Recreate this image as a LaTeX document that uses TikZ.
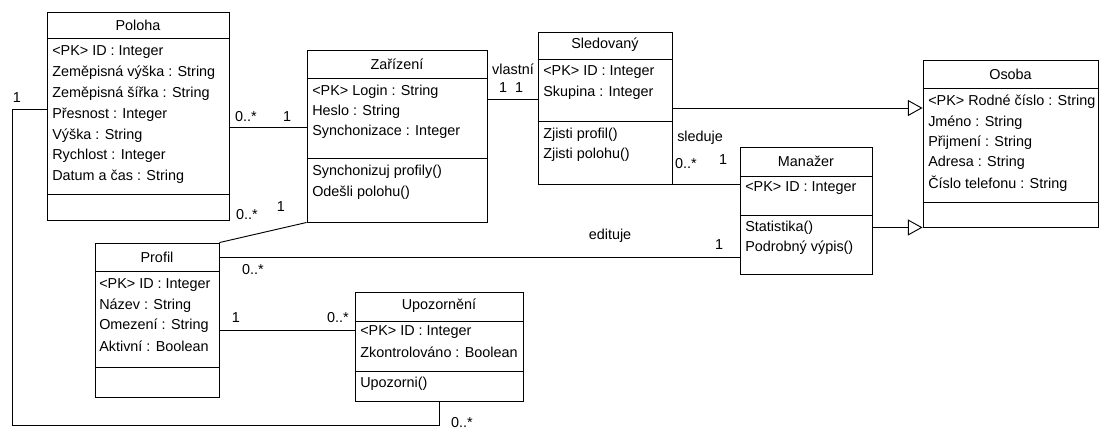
\documentclass[tikz,border=0pt]{standalone}
\usepackage{fontspec}
\setmainfont{Liberation Sans}
\usetikzlibrary{arrows.meta,fit,shadows}

\tikzset{
  cls/.style={draw, line width=0.7pt, fill=white, inner sep=0pt,
    drop shadow={shadow xshift=0.8pt, shadow yshift=-0.8pt, opacity=0.35, fill=black}},
  sep/.style={line width=0.7pt},
  head/.style={inner sep=0pt},
  attr/.style={anchor=west, inner sep=0pt},
  mult/.style={inner sep=0pt},
  assoc/.style={line width=0.7pt},
  gen/.style={line width=0.7pt, -{Triangle[open, length=11pt, width=12pt]}},
}

\begin{document}
\begin{tikzpicture}[x=0.75pt, y=-0.75pt, font=\fontsize{10.8}{13}\selectfont]
    \useasboundingbox (0,0) rectangle (1099,430);

    % Poloha
    \node[cls, fit={(47,12) (229,220)}] (poloha) {};
    \node[head] (polohaT) at (poloha.north |- 0,25) {Poloha};
    \draw[sep] (poloha.west |- 0,38) -- (poloha.east |- 0,38);
    \draw[sep] (poloha.west |- 0,194) -- (poloha.east |- 0,194);
    \foreach \txt [count=\i] in {<PK> ID : Integer, Zeměpisná výška : String,
        Zeměpisná šířka : String, Přesnost : Integer, Výška : String,
        Rychlost : Integer, Datum a čas : String}
        \node[attr] (poloha-\i) at (52, {52+20.8*(\i-1)}) {\txt};

    % Zarizeni
    \node[cls, fit={(307,50) (487,222)}] (zarizeni) {};
    \node[head] (zarizeniT) at (zarizeni.north |- 0,64) {Zařízení};
    \draw[sep] (zarizeni.west |- 0,78) -- (zarizeni.east |- 0,78);
    \draw[sep] (zarizeni.west |- 0,158) -- (zarizeni.east |- 0,158);
    \foreach \txt [count=\i] in {<PK> Login : String, Heslo : String,
        Synchonizace : Integer}
        \node[attr] (zarizeni-\i) at (312, {92+20*(\i-1)}) {\txt};
    \foreach \txt [count=\i] in {Synchonizuj profily(), Odešli polohu()}
        \node[attr] (zarizeniM-\i) at (312, {172+20.5*(\i-1)}) {\txt};

    % Sledovany
    \node[cls, fit={(538,32) (672,184)}] (sled) {};
    \node[head] (sledT) at (sled.north |- 0,45) {Sledovaný};
    \draw[sep] (sled.west |- 0,59) -- (sled.east |- 0,59);
    \draw[sep] (sled.west |- 0,121) -- (sled.east |- 0,121);
    \foreach \txt [count=\i] in {<PK> ID : Integer, Skupina : Integer}
        \node[attr] (sled-\i) at (543, {72+20.5*(\i-1)}) {\txt};
    \foreach \txt [count=\i] in {Zjisti profil(), Zjisti polohu()}
        \node[attr] (sledM-\i) at (543, {135+20*(\i-1)}) {\txt};

    % Osoba
    \node[cls, fit={(923,60) (1098,227)}] (osoba) {};
    \node[head] (osobaT) at (osoba.north |- 0,74) {Osoba};
    \draw[sep] (osoba.west |- 0,88) -- (osoba.east |- 0,88);
    \draw[sep] (osoba.west |- 0,202) -- (osoba.east |- 0,202);
    \foreach \txt [count=\i] in {<PK> Rodné číslo : String, Jméno : String,
        Přijmení : String, Adresa : String, Číslo telefonu : String}
        \node[attr] (osoba-\i) at (928, {102+20.3*(\i-1)}) {\txt};

    % Manazer
    \node[cls, fit={(740,147) (872,274)}] (manazer) {};
    \node[head] (manazerT) at (manazer.north |- 0,161) {Manažer};
    \draw[sep] (manazer.west |- 0,176) -- (manazer.east |- 0,176);
    \draw[sep] (manazer.west |- 0,215) -- (manazer.east |- 0,215);
    \node[attr] (manazer-1) at (745,188) {<PK> ID : Integer};
    \foreach \txt [count=\i] in {Statistika(), Podrobný výpis()}
        \node[attr] (manazerM-\i) at (745, {228+20*(\i-1)}) {\txt};

    % Profil
    \node[cls, fit={(95,243) (219,397)}] (profil) {};
    \node[head] (profilT) at (profil.north |- 0,257) {Profil};
    \draw[sep] (profil.west |- 0,271) -- (profil.east |- 0,271);
    \draw[sep] (profil.west |- 0,367) -- (profil.east |- 0,367);
    \foreach \txt [count=\i] in {<PK> ID : Integer, Název : String,
        Omezení : String, Aktivní : Boolean}
        \node[attr] (profil-\i) at (99, {285+20.3*(\i-1)}) {\txt};

    % Upozorneni
    \node[cls, fit={(355,292) (523,401)}] (upoz) {};
    \node[head] (upozT) at (upoz.north |- 0,306) {Upozornění};
    \draw[sep] (upoz.west |- 0,321) -- (upoz.east |- 0,321);
    \draw[sep] (upoz.west |- 0,371) -- (upoz.east |- 0,371);
    \foreach \txt [count=\i] in {<PK> ID : Integer, Zkontrolováno : Boolean}
        \node[attr] (upoz-\i) at (360, {332+20.5*(\i-1)}) {\txt};
    \node[attr] (upozM-1) at (360,384) {Upozorni()};

    % Associations
    \draw[assoc] (poloha.east |- 0,127) -- (zarizeni.west |- 0,127);
    \node[mult] (m1a) at (246,117) {0..*};
    \node[mult] (m1b) at (287,117) {1};

    \draw[assoc] (zarizeni.east |- 0,99) -- (sled.west |- 0,99);
    \node[mult] (vlastni) at (513,69) {vlastní};
    \node[mult] (m2a) at (503,88) {1};
    \node[mult] (m2b) at (519,88) {1};

    \draw[assoc] (sled.south east) -- (manazer.west |- sled.south east);
    \node[mult, anchor=west] (sleduje) at (677,138) {sleduje};
    \node[mult] (m3a) at (686,164) {0..*};
    \node[mult] (m3b) at (723,160) {1};

    \draw[assoc] (profil.north east) -- (zarizeni.south west);
    \node[mult] (m4a) at (247,215) {0..*};
    \node[mult] (m4b) at (281,207) {1};

    \draw[assoc] (profil.east |- 0,257) -- (manazer.west |- 0,257);
    \node[mult] (edituje) at (610,236) {edituje};
    \node[mult] (m5a) at (253,270) {0..*};
    \node[mult] (m5b) at (719,245) {1};

    \draw[assoc] (profil.east |- 0,330) -- (upoz.west |- 0,330);
    \node[mult] (m6a) at (236,318) {1};
    \node[mult] (m6b) at (338,318) {0..*};

    \draw[assoc] (poloha.west |- 0,109) -| (12,425) -| (upoz.south);
    \node[mult] (m7a) at (17,98) {1};
    \node[mult] (m7b) at (462,423) {0..*};

    % Generalizations
    \draw[gen] (sled.east |- 0,108) -- (osoba.west |- 0,108);
    \draw[gen] (manazer.east |- osoba.south west) -- (osoba.south west);
\end{tikzpicture}
\end{document}
